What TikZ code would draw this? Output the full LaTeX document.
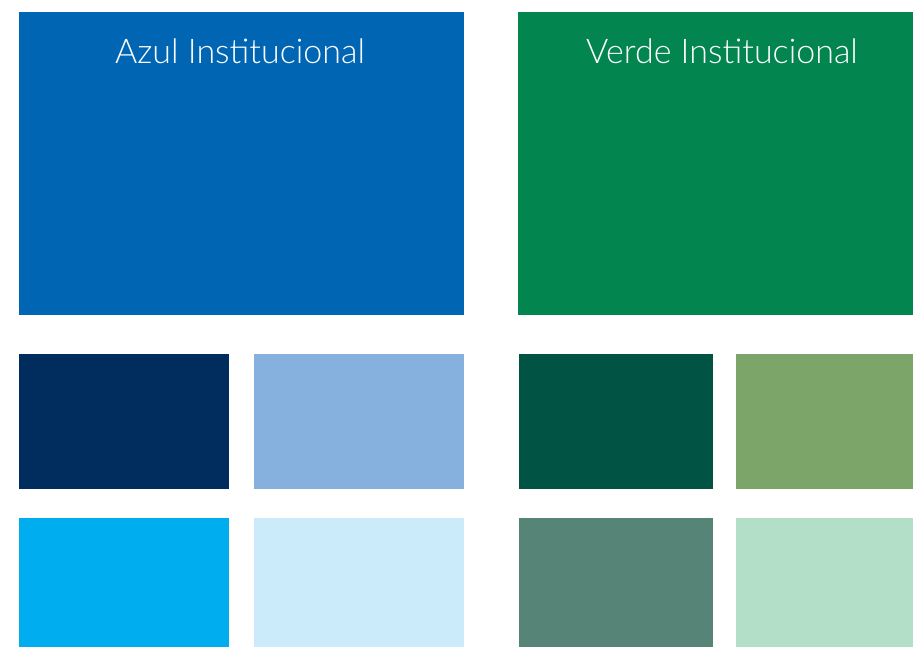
\documentclass[tikz,border=0pt]{standalone}
\usepackage{fontspec}
\setmainfont{Lato Light}
\definecolor{azul}{HTML}{0066B3}
\definecolor{verde}{HTML}{02854F}
\definecolor{navy}{HTML}{002D5E}
\definecolor{lblue}{HTML}{86B0DE}
\definecolor{cyanb}{HTML}{00AEEF}
\definecolor{pblue}{HTML}{CCEBFA}
\definecolor{dgreen}{HTML}{015444}
\definecolor{olive}{HTML}{7CA56A}
\definecolor{ggreen}{HTML}{568578}
\definecolor{mint}{HTML}{B3DEC8}
\tikzset{swatch/.style={fill=#1,draw=none}, title/.style={text=white,font=\fontsize{34}{40}\selectfont,anchor=base}}
\begin{document}
\begin{tikzpicture}[x=1pt,y=-1pt]
\useasboundingbox (0,0) rectangle (913,647);
\fill[white] (0,0) rectangle (913,647);
\path[swatch=azul] (19,12) rectangle (464,315);
\path[swatch=verde] (518,12) rectangle (913,315);
\path[swatch=navy] (19,354) rectangle (229,489);
\path[swatch=lblue] (254,354) rectangle (464,489);
\path[swatch=cyanb] (19,518) rectangle (229,647);
\path[swatch=pblue] (254,518) rectangle (464,647);
\path[swatch=dgreen] (519,354) rectangle (713,489);
\path[swatch=olive] (736,354) rectangle (913,489);
\path[swatch=ggreen] (519,518) rectangle (713,647);
\path[swatch=mint] (736,518) rectangle (913,647);
\node[title] (azul) at (240,64) {Azul Institucional};
\node[title] (verde) at (722,64) {Verde Institucional};
\end{tikzpicture}
\end{document}
